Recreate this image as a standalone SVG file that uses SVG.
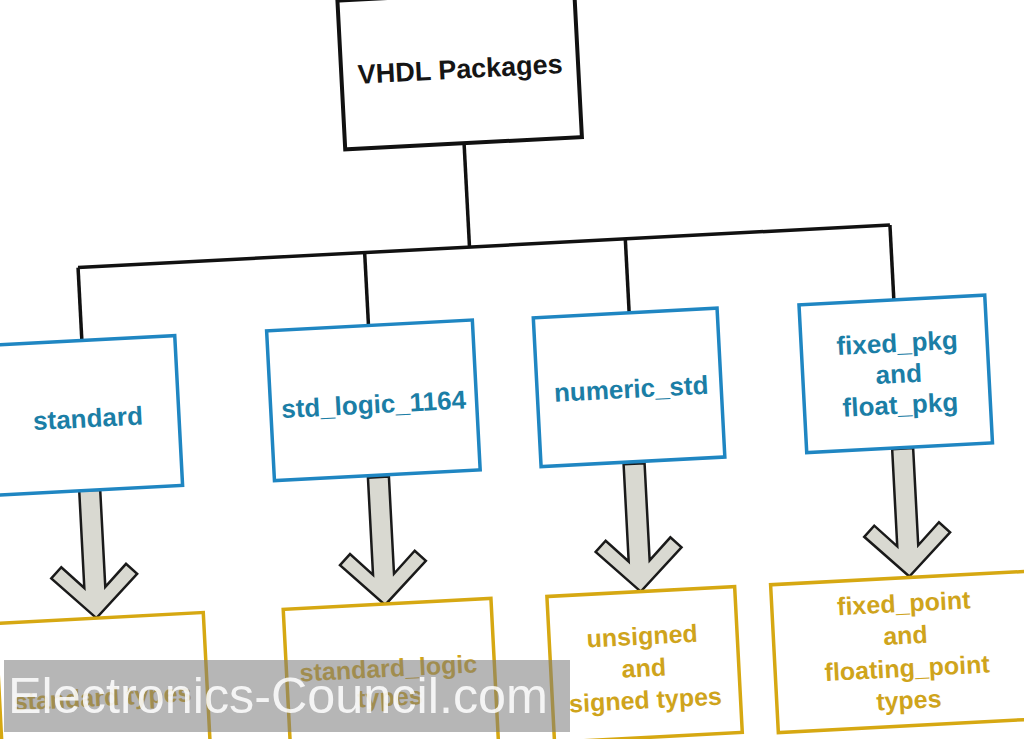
<svg xmlns="http://www.w3.org/2000/svg" xmlns:xlink="http://www.w3.org/1999/xlink" width="1024" height="739" viewBox="0 0 1024 739">
<style>
.top{fill:#fff;stroke:#111;stroke-width:4}
.blue{fill:#fff;stroke:#1f86c2;stroke-width:3.5}
.yel{fill:#fff;stroke:#d6a812;stroke-width:3.5}
.t{font-family:"Liberation Sans",Arial,sans-serif;font-weight:bold;text-anchor:middle}
.tk{fill:#151515;font-size:27px}
.tb{fill:#1b7ea6;font-size:26px}
.ty{fill:#cfa41c;font-size:25px}
.ln{stroke:#111;stroke-width:3.5;fill:none}
.arr{fill:#d9d9d1;stroke:#1a1a1a;stroke-width:2.5;stroke-linejoin:miter}
</style>
<defs>
<path id="arr" class="arr" d="M-10.5,-128 L10.5,-128 L10.5,-30.7 L32.4,-52.6 L43,-42 L0,0 L-43,-42 L-32.4,-52.6 L-10.5,-30.7 Z"/>
</defs>
<rect width="1024" height="739" fill="#fff"/>
<g transform="rotate(-3 512 370)">
<g id="connectors">
<line class="ln" x1="476" y1="141" x2="476" y2="245"/>
<line class="ln" x1="84" y1="245" x2="897" y2="245" stroke-width="4.5"/>
<line class="ln" x1="84" y1="245" x2="84" y2="318"/>
<line class="ln" x1="371" y1="245" x2="371" y2="318"/>
<line class="ln" x1="632" y1="245" x2="632" y2="319"/>
<line class="ln" x1="897" y1="245" x2="897" y2="320"/>
<use xlink:href="#arr" href="#arr" transform="translate(84,596)"/>
<use xlink:href="#arr" href="#arr" transform="translate(373,598)"/>
<use xlink:href="#arr" href="#arr" transform="translate(629,598)"/>
<use xlink:href="#arr" href="#arr" transform="translate(898,597)"/>
</g>
<g id="vhdl-packages">
<rect class="top" x="357" y="-8" width="237" height="149"/>
<text class="t tk" x="476" y="76">VHDL Packages</text>
</g>
<g id="standard">
<rect class="blue" x="-8" y="318" width="185" height="150"/>
<text class="t tb" x="86" y="405">standard</text>
</g>
<g id="std_logic_1164">
<rect class="blue" x="269" y="318" width="206" height="150"/>
<text class="t tb" x="372" y="406">std_logic_1164</text>
</g>
<g id="numeric_std">
<rect class="blue" x="536" y="319" width="184" height="149"/>
<text class="t tb" x="630" y="404">numeric_std</text>
</g>
<g id="fixed_float_pkg">
<rect class="blue" x="802" y="320" width="186" height="148"/>
<text class="t tb" x="898" y="372">fixed_pkg</text>
<text class="t tb" x="898" y="403">and</text>
<text class="t tb" x="898" y="434">float_pkg</text>
</g>
<g id="standard-types">
<rect class="yel" x="-17" y="596" width="208" height="148"/>
<text class="t ty" x="86" y="684">standard types</text>
</g>
<g id="standard-logic-types">
<rect class="yel" x="271" y="597" width="208" height="148"/>
<text class="t ty" x="373" y="670">standard_logic</text>
<text class="t ty" x="373" y="699">types</text>
</g>
<g id="unsigned-signed-types">
<rect class="yel" x="535" y="598" width="188" height="146"/>
<text class="t ty" x="628" y="651">unsigned</text>
<text class="t ty" x="628" y="683">and</text>
<text class="t ty" x="628" y="715">signed types</text>
</g>
<g id="fixed-floating-types">
<rect class="yel" x="759" y="598" width="290" height="148"/>
<text class="t ty" x="891" y="632">fixed_point</text>
<text class="t ty" x="891" y="664">and</text>
<text class="t ty" x="891" y="697">floating_point</text>
<text class="t ty" x="891" y="729">types</text>
</g>
</g>
<g id="watermark">
<rect x="4" y="660" width="566" height="72" fill="#7a7a7a" fill-opacity="0.55"/>
<text x="8" y="713" font-family="Liberation Sans,Arial,sans-serif" font-size="50" fill="#fff" fill-opacity="0.85" textLength="540" lengthAdjust="spacingAndGlyphs">Electronics-Council.com</text>
</g>
</svg>
